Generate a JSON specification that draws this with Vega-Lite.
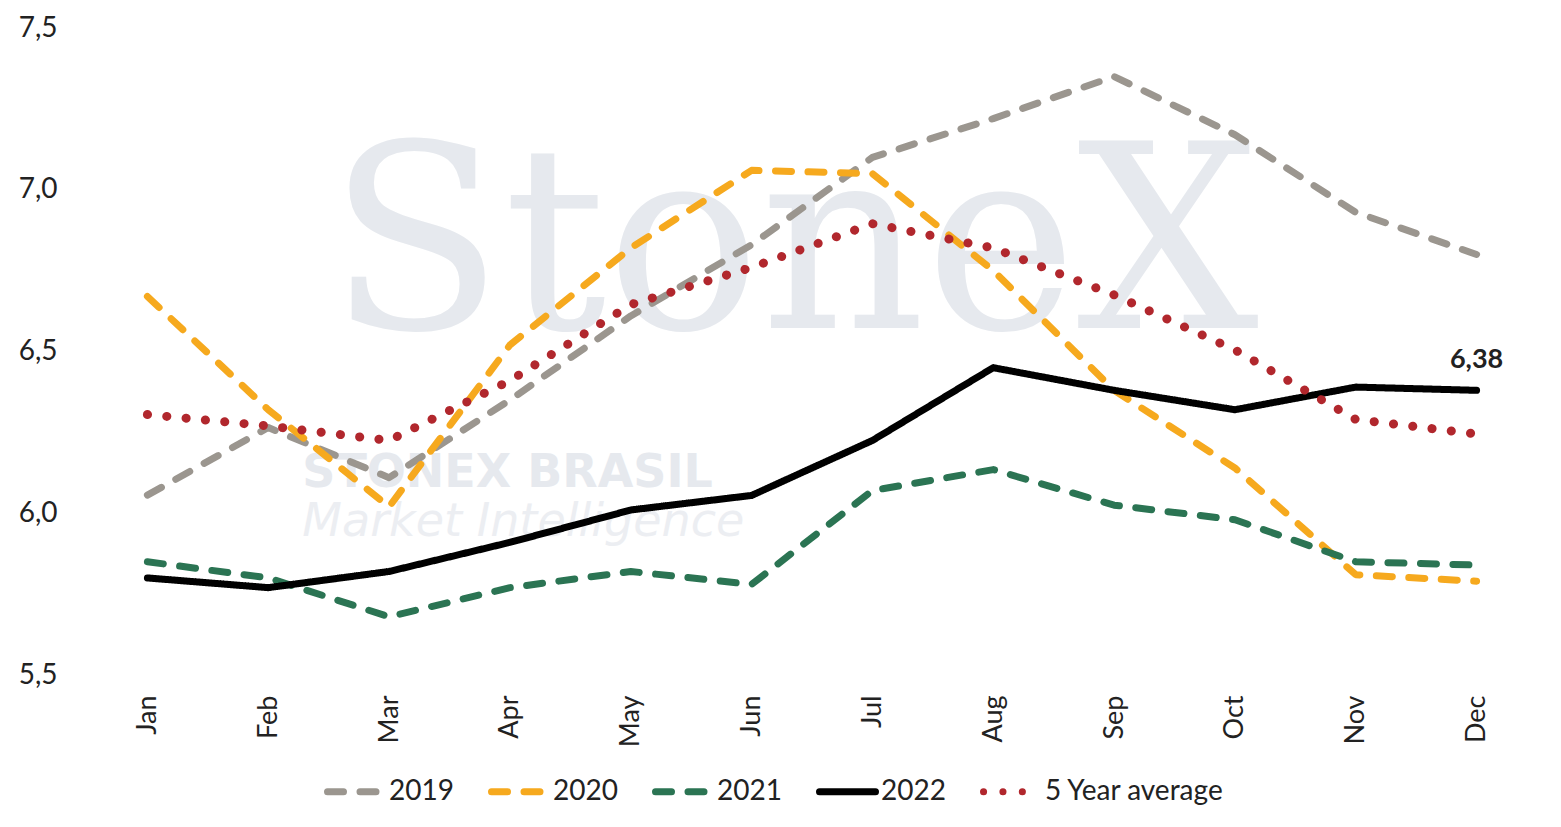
{
  "$schema": "https://vega.github.io/schema/vega-lite/v6.json",
  "width": 1450,
  "height": 647,
  "autosize": {"type": "none"},
  "padding": {"left": 87, "top": 28, "right": 24, "bottom": 152},
  "background": "white",
  "config": {
    "font": "Lato",
    "view": {"stroke": null},
    "locale": {"number": {"decimal": ",", "thousands": ".", "grouping": [3], "currency": ["R$", ""]}}
  },
  "data": {"values": [
    {"series": "2019", "month": "Jan", "value": 6.056},
    {"series": "2019", "month": "Feb", "value": 6.265},
    {"series": "2019", "month": "Mar", "value": 6.11},
    {"series": "2019", "month": "Apr", "value": 6.35},
    {"series": "2019", "month": "May", "value": 6.61},
    {"series": "2019", "month": "Jun", "value": 6.83},
    {"series": "2019", "month": "Jul", "value": 7.1},
    {"series": "2019", "month": "Aug", "value": 7.22},
    {"series": "2019", "month": "Sep", "value": 7.35},
    {"series": "2019", "month": "Oct", "value": 7.17},
    {"series": "2019", "month": "Nov", "value": 6.93},
    {"series": "2019", "month": "Dec", "value": 6.8},
    {"series": "2020", "month": "Jan", "value": 6.67},
    {"series": "2020", "month": "Feb", "value": 6.32},
    {"series": "2020", "month": "Mar", "value": 6.02},
    {"series": "2020", "month": "Apr", "value": 6.52},
    {"series": "2020", "month": "May", "value": 6.82},
    {"series": "2020", "month": "Jun", "value": 7.06},
    {"series": "2020", "month": "Jul", "value": 7.05},
    {"series": "2020", "month": "Aug", "value": 6.75},
    {"series": "2020", "month": "Sep", "value": 6.38},
    {"series": "2020", "month": "Oct", "value": 6.14},
    {"series": "2020", "month": "Nov", "value": 5.81},
    {"series": "2020", "month": "Dec", "value": 5.79},
    {"series": "2021", "month": "Jan", "value": 5.85},
    {"series": "2021", "month": "Feb", "value": 5.8},
    {"series": "2021", "month": "Mar", "value": 5.68},
    {"series": "2021", "month": "Apr", "value": 5.77},
    {"series": "2021", "month": "May", "value": 5.82},
    {"series": "2021", "month": "Jun", "value": 5.78},
    {"series": "2021", "month": "Jul", "value": 6.07},
    {"series": "2021", "month": "Aug", "value": 6.135},
    {"series": "2021", "month": "Sep", "value": 6.025},
    {"series": "2021", "month": "Oct", "value": 5.98},
    {"series": "2021", "month": "Nov", "value": 5.85},
    {"series": "2021", "month": "Dec", "value": 5.84},
    {"series": "2022", "month": "Jan", "value": 5.8},
    {"series": "2022", "month": "Feb", "value": 5.77},
    {"series": "2022", "month": "Mar", "value": 5.82},
    {"series": "2022", "month": "Apr", "value": 5.91},
    {"series": "2022", "month": "May", "value": 6.01},
    {"series": "2022", "month": "Jun", "value": 6.055},
    {"series": "2022", "month": "Jul", "value": 6.225},
    {"series": "2022", "month": "Aug", "value": 6.45},
    {"series": "2022", "month": "Sep", "value": 6.38},
    {"series": "2022", "month": "Oct", "value": 6.32},
    {"series": "2022", "month": "Nov", "value": 6.39},
    {"series": "2022", "month": "Dec", "value": 6.38},
    {"series": "5 Year average", "month": "Jan", "value": 6.305},
    {"series": "5 Year average", "month": "Feb", "value": 6.27},
    {"series": "5 Year average", "month": "Mar", "value": 6.225},
    {"series": "5 Year average", "month": "Apr", "value": 6.41},
    {"series": "5 Year average", "month": "May", "value": 6.645},
    {"series": "5 Year average", "month": "Jun", "value": 6.76},
    {"series": "5 Year average", "month": "Jul", "value": 6.895},
    {"series": "5 Year average", "month": "Aug", "value": 6.82},
    {"series": "5 Year average", "month": "Sep", "value": 6.675},
    {"series": "5 Year average", "month": "Oct", "value": 6.505},
    {"series": "5 Year average", "month": "Nov", "value": 6.29},
    {"series": "5 Year average", "month": "Dec", "value": 6.245}
  ]},
  "layer": [
    {
      "data": {"values": [{"t": "StoneX"}]},
      "mark": {"type": "text", "font": "DejaVu Serif", "fontSize": 256, "color": "#e6e9ee", "align": "center", "baseline": "alphabetic", "dx": 42},
      "encoding": {"x": {"datum": "Jun", "type": "ordinal"}, "y": {"datum": 6.572, "type": "quantitative"}, "text": {"field": "t"}}
    },
    {
      "data": {"values": [{"t": "STONEX BRASIL"}]},
      "mark": {"type": "text", "font": "DejaVu Sans", "fontWeight": "bold", "fontSize": 46, "color": "#e6e9ee", "align": "left", "baseline": "alphabetic", "dx": 34},
      "encoding": {"x": {"datum": "Feb", "type": "ordinal"}, "y": {"datum": 6.08, "type": "quantitative"}, "text": {"field": "t"}}
    },
    {
      "data": {"values": [{"t": "Market Intelligence"}]},
      "mark": {"type": "text", "font": "DejaVu Sans", "fontWeight": 200, "fontStyle": "italic", "fontSize": 46, "color": "#eceef2", "align": "left", "baseline": "alphabetic", "dx": 34},
      "encoding": {"x": {"datum": "Feb", "type": "ordinal"}, "y": {"datum": 5.93, "type": "quantitative"}, "text": {"field": "t"}}
    },
    {
      "transform": [{"filter": "datum.series !== '5 Year average'"}],
      "mark": {"type": "line", "strokeCap": "round", "strokeJoin": "round", "strokeWidth": 7},
      "encoding": {
        "x": {
          "field": "month", "type": "ordinal",
          "scale": {"type": "point", "padding": 0.5, "domain": ["Jan","Feb","Mar","Apr","May","Jun","Jul","Aug","Sep","Oct","Nov","Dec"]},
          "axis": {"title": null, "labelAngle": -90, "labelFontSize": 27, "labelColor": "#222222", "labelPadding": 20, "ticks": false, "domain": false, "grid": false}
        },
        "y": {
          "field": "value", "type": "quantitative",
          "scale": {"domain": [5.5, 7.5], "nice": false, "zero": false},
          "axis": {"title": null, "values": [5.5, 6, 6.5, 7, 7.5], "format": ".1f", "labelFontSize": 28, "labelColor": "#222222", "labelPadding": 30, "ticks": false, "domain": false, "gridColor": "#dedada", "gridWidth": 1.5}
        },
        "color": {
          "field": "series", "type": "nominal",
          "scale": {"domain": ["2019", "2020", "2021", "2022", "5 Year average"], "range": ["#9b968f", "#f6a91e", "#2b7453", "#000000", "#b1272d"]},
          "legend": {
            "title": null, "orient": "none", "direction": "horizontal", "legendX": 237, "legendY": 732,
            "symbolType": "stroke", "symbolSize": 3136, "symbolStrokeWidth": 7, "labelFontSize": 28, "labelColor": "#222222", "labelOffset": 2, "labelLimit": 400, "columnPadding": 23,
            "encode": {"symbols": {"update": {"strokeCap": {"value": "round"}}}}
          }
        },
        "strokeDash": {
          "field": "series", "type": "nominal",
          "scale": {"domain": ["2019", "2020", "2021", "2022", "5 Year average"], "range": [[16, 16.5], [16, 16.5], [16, 16.5], [1, 0], [0.1, 19.3]]}
        }
      }
    },
    {
      "transform": [{"filter": "datum.series === '5 Year average'"}],
      "mark": {"type": "line", "strokeCap": "round", "strokeJoin": "round", "strokeWidth": 9},
      "encoding": {
        "x": {"field": "month", "type": "ordinal"},
        "y": {"field": "value", "type": "quantitative"},
        "color": {"field": "series", "type": "nominal"},
        "strokeDash": {"field": "series", "type": "nominal"}
      }
    },
    {
      "transform": [{"filter": "datum.series === '2022' && datum.month === 'Dec'"}],
      "mark": {"type": "text", "fontSize": 27, "fontWeight": "bold", "color": "#222222", "align": "center", "baseline": "alphabetic", "dy": -22},
      "encoding": {
        "x": {"field": "month", "type": "ordinal"},
        "y": {"field": "value", "type": "quantitative"},
        "text": {"field": "value", "type": "quantitative", "format": ".2f"}
      }
    }
  ]
}
